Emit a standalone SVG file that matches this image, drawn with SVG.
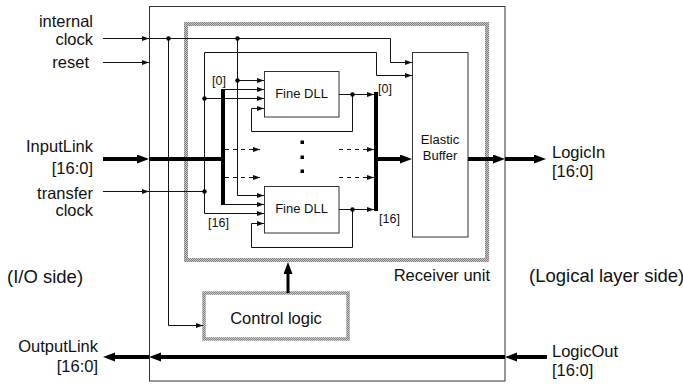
<svg xmlns="http://www.w3.org/2000/svg" width="683" height="384" viewBox="0 0 683 384">
<defs>
<pattern id="hatch" width="2" height="2" patternUnits="userSpaceOnUse">
<rect width="2" height="2" fill="#c8c8c8"/>
<rect width="1" height="1" fill="#808080"/>
<rect x="1" y="1" width="1" height="1" fill="#808080"/>
</pattern>
<marker id="a" markerUnits="userSpaceOnUse" markerWidth="8" markerHeight="6" refX="7" refY="2.5" orient="auto">
<path d="M0,0 L7,2.5 L0,5 z" fill="#111"/>
</marker>
<marker id="A" markerUnits="userSpaceOnUse" markerWidth="13" markerHeight="10" refX="6" refY="4.5" orient="auto">
<path d="M0,0 L12,4.5 L0,9 z" fill="#000"/>
</marker>
</defs>
<style>
text{font-family:"Liberation Sans",Arial,sans-serif;fill:#111}
.lb{font-size:16.5px}
.sd{font-size:18.5px}
.sm{font-size:13px}
.ix{font-size:12.5px}
.e{text-anchor:end}
.m{text-anchor:middle}
.w{fill:none;stroke:#111;stroke-width:1}
.wa{fill:none;stroke:#111;stroke-width:1;marker-end:url(#a)}
.da{fill:none;stroke:#111;stroke-width:1;stroke-dasharray:4 4;marker-end:url(#a)}
.t{fill:none;stroke:#000;stroke-width:4}
.ta{fill:none;stroke:#000;stroke-width:4;marker-end:url(#A)}
.box{fill:#fff;stroke:#333;stroke-width:1}
.dot{fill:#000}
</style>
<rect width="683" height="384" fill="#fff"/>

<g id="outer-box">
<rect x="149.5" y="6.5" width="355.5" height="374.5" fill="none" stroke="#333" stroke-width="1"/>
</g>

<g id="receiver-unit">
<rect x="186" y="24" width="301" height="236" fill="none" stroke="url(#hatch)" stroke-width="4"/>
<text class="lb e" x="490" y="281">Receiver unit</text>
</g>

<g id="elastic-buffer">
<rect class="box" x="412.5" y="52.5" width="55.5" height="184.5"/>
<text class="sm m" x="440" y="144">Elastic</text>
<text class="sm m" x="440" y="160">Buffer</text>
</g>

<g id="fine-dll-0">
<rect class="box" x="264.5" y="71.5" width="74.5" height="45.5"/>
<text class="sm m" x="301.5" y="98">Fine DLL</text>
</g>

<g id="fine-dll-16">
<rect class="box" x="264.5" y="186.5" width="74.5" height="46.5"/>
<text class="sm m" x="301.5" y="213">Fine DLL</text>
</g>

<g id="control-logic">
<rect x="204" y="293" width="144" height="46" fill="#fff" stroke="url(#hatch)" stroke-width="3.5"/>
<text class="lb m" x="276" y="324">Control logic</text>
</g>

<g id="connectors">
<!-- internal clock -->
<path class="wa" d="M103,38.5 H149"/>
<path class="wa" d="M149,38.5 H390.5 V62.5 H412"/>
<path class="wa" d="M168.5,38 V325.5 H203"/>
<path class="wa" d="M237.5,38 V195.5 H264"/>
<path class="wa" d="M237.5,80.5 H264"/>
<!-- reset -->
<path class="wa" d="M103,62.5 H149"/>
<!-- transfer clock -->
<path class="wa" d="M103,191.5 H149"/>
<path class="w" d="M149,191.5 H204.5"/>
<path class="wa" d="M204.5,191.5 V52.5 H376.5 V75.5 H412"/>
<path class="wa" d="M204.5,191 V213.5 H264"/>
<path class="wa" d="M204.5,98.5 H264"/>
<!-- InputLink -->
<path class="ta" d="M103,159 H143"/>
<path class="t" d="M149,159 H225"/>
<path class="t" d="M223,89 V205"/>
<path class="wa" d="M223,89.5 H264"/>
<path class="wa" d="M223,204.5 H264"/>
<path class="da" d="M225,149.5 H260"/>
<path class="da" d="M225,177.5 H260"/>
<!-- DLL outputs and feedback -->
<path class="wa" d="M339,94.5 H374"/>
<path class="wa" d="M352.5,94.5 V131.5 H251.5 V108.5 H264"/>
<path class="wa" d="M339,209.5 H374"/>
<path class="wa" d="M352.5,209.5 V247.5 H251.5 V223.5 H264"/>
<path class="da" d="M339,149.5 H374"/>
<path class="da" d="M339,177.5 H374"/>
<path class="t" d="M376,92 V211"/>
<path class="ta" d="M376,159 H406"/>
<!-- to LogicIn -->
<path class="ta" d="M468,159 H499"/>
<path class="ta" d="M505,159 H540"/>
<!-- control to receiver -->
<path class="ta" d="M288,293 V268" style="stroke-width:3"/>
<!-- LogicOut to OutputLink -->
<path class="ta" d="M547,357 H511"/>
<path class="ta" d="M505,357 H155"/>
<path class="ta" d="M149,357 H109"/>
<!-- junction dots -->
<circle class="dot" cx="168.5" cy="38.5" r="2.2"/>
<circle class="dot" cx="237.5" cy="38.5" r="2.2"/>
<circle class="dot" cx="237.5" cy="80.5" r="2.2"/>
<circle class="dot" cx="204.5" cy="98.5" r="2.2"/>
<circle class="dot" cx="204.5" cy="191.5" r="2.2"/>
<circle class="dot" cx="352.5" cy="94.5" r="2.2"/>
<circle class="dot" cx="352.5" cy="209.5" r="2.2"/>
<rect class="dot" x="300.5" y="140.5" width="3.5" height="3.5"/>
<rect class="dot" x="300.5" y="155.5" width="3.5" height="3.5"/>
<rect class="dot" x="300.5" y="169.5" width="3.5" height="3.5"/>
</g>

<g id="labels">
<text class="lb e" x="93" y="27">internal</text>
<text class="lb e" x="93" y="45">clock</text>
<text class="lb e" x="89" y="68">reset</text>
<text class="lb e" x="93" y="152">InputLink</text>
<text class="lb e" x="93" y="174">[16:0]</text>
<text class="lb e" x="93" y="199">transfer</text>
<text class="lb e" x="93" y="216">clock</text>
<text class="lb e" x="98" y="352">OutputLink</text>
<text class="lb e" x="98" y="372">[16:0]</text>
<text class="sd" x="7" y="283">(I/O side)</text>
<text class="lb" x="552" y="158">LogicIn</text>
<text class="lb" x="552" y="177">[16:0]</text>
<text class="sd" x="529" y="282">(Logical layer side)</text>
<text class="lb" x="552" y="357">LogicOut</text>
<text class="lb" x="552" y="376">[16:0]</text>
<text class="ix" x="212" y="85">[0]</text>
<text class="ix" x="378" y="93">[0]</text>
<text class="ix" x="208" y="227">[16]</text>
<text class="ix" x="379" y="223">[16]</text>
</g>
</svg>
